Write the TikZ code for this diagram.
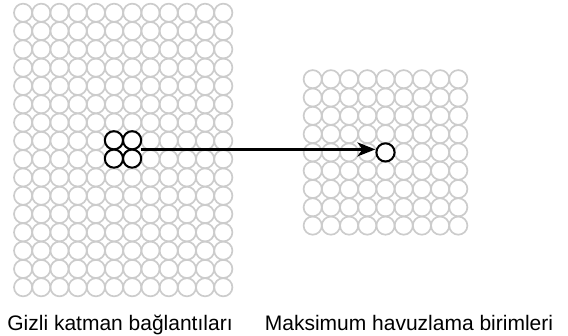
\documentclass[tikz,border=0pt]{standalone}
\usepackage{fontspec}
\setmainfont{Liberation Sans}
\usetikzlibrary{arrows.meta}
\definecolor{gridgray}{RGB}{204,204,204}
\tikzset{
  unit/.style={circle, draw=gridgray, line width=1.7pt, minimum size=18.2pt, inner sep=0pt},
  active/.style={circle, draw=black, line width=2pt, minimum size=18.2pt, inner sep=0pt},
  label/.style={anchor=base, font=\fontsize{21}{25}\selectfont}
}
\begin{document}
\begin{tikzpicture}[x=1pt,y=-1pt]
\useasboundingbox (0,0) rectangle (568,335);

% hidden layer, 12 x 16
\foreach \i in {0,...,11}
  \foreach \j in {0,...,15}
    \node[unit] at (23.1+18.2*\i, 12.75+18.3*\j) {};

% pooling layer, 9 x 9
\foreach \i in {0,...,8}
  \foreach \j in {0,...,8}
    \node[unit] at (312.7+18.2*\i, 79.2+18.3*\j) {};

% 2 x 2 region
\node[active] (h1) at (113.9,140.25) {};
\node[active] (h2) at (132.1,140.25) {};
\node[active] (h3) at (113.9,158.55) {};
\node[active] (h4) at (132.1,158.55) {};
\node[inner sep=0pt, minimum width=36.4pt, minimum height=36.6pt] (blk) at (123,149.4) {};

% max pooling unit
\node[active] (pool) at (385.5,152.4) {};

\draw[line width=2.2pt, -{Stealth[length=18pt, width=14pt, inset=5pt]}] (blk.east) -- (blk.east -| pool.west);

\node[label] (lh) at (120,330) {Gizli katman bağlantıları};
\node[label] (lp) at (409,330) {Maksimum havuzlama birimleri};
\end{tikzpicture}
\end{document}
